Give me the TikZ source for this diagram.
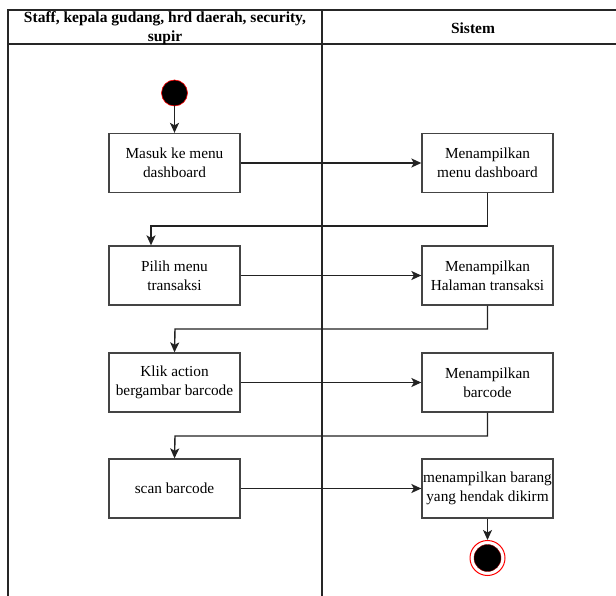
\documentclass[tikz,border=0pt]{standalone}
\usepackage{fontspec}
\setmainfont{Liberation Serif}
\usetikzlibrary{arrows.meta}
\definecolor{garis}{HTML}{222222}
\definecolor{kotak}{HTML}{444444}
\tikzset{
  aktivitas/.style={draw=kotak, line width=1.3pt, fill=white, minimum width=131pt,
    minimum height=59pt, align=center, font=\fontsize{15.3}{19}\selectfont, inner sep=1pt},
  alur/.style={draw=garis, line width=1.4pt, -{Stealth[length=10pt,width=9pt,inset=2.5pt]}},
  jalur/.style={draw=black!85, line width=1.7pt}
}
\begin{document}
\begin{tikzpicture}[x=1pt, y=-1pt]
    \useasboundingbox (0,0) rectangle (616,596);

    % Swimlane
    \draw[jalur] (616,10) -- (8,10) -- (8,596);
    \draw[jalur] (8,44) -- (616,44);
    \draw[jalur] (322,10) -- (322,596);
    \node[align=center, font=\bfseries\fontsize{15.5}{19}\selectfont] (lajur1) at (165,28.5)
        {Staff, kepala gudang, hrd daerah, security,\\supir};
    \node[font=\bfseries\fontsize{15.5}{19}\selectfont] (lajur2) at (473,28) {Sistem};

    % Awal
    \node[circle, fill=black, draw=red, line width=0.6pt, minimum size=26pt, inner sep=0pt] (awal) at (174.5,93) {};

    % Aktivitas pengguna
    \node[aktivitas] (masuk) at (174.5,163) {Masuk ke menu\\dashboard};
    \node[aktivitas] (pilih) at (174.5,275.5) {Pilih menu\\transaksi};
    \node[aktivitas] (klik) at (174.5,382.5) {Klik action\\bergambar barcode};
    \node[aktivitas] (scan) at (174.5,488.5) {scan barcode};

    % Aktivitas sistem
    \node[aktivitas] (dashboard) at (487.5,163) {Menampilkan\\menu dashboard};
    \node[aktivitas] (transaksi) at (487.5,275.5) {Menampilkan\\Halaman transaksi};
    \node[aktivitas] (barcode) at (487.5,382.5) {Menampilkan\\barcode};
    \node[aktivitas] (barang) at (487.5,488.5) {menampilkan barang\\yang hendak dikirm};

    % Akhir
    \node[circle, draw=red, line width=1pt, minimum size=35pt, inner sep=0pt] (akhir) at (487.5,558) {};
    \fill[black, draw=red!60!black, line width=0.4pt] (akhir.center) circle (13.5);

    % Titik belok
    \coordinate (belok1) at (151,226);
    \coordinate (belok2) at (175,329);
    \coordinate (belok3) at (175,436);

    % Alur
    \draw[alur] (awal) -- (masuk);
    \draw[alur] (masuk) -- (dashboard);
    \draw[alur] (dashboard.south) |- (belok1) -- (pilih.north -| belok1);
    \draw[alur] (pilih) -- (transaksi);
    \draw[alur] (transaksi.south) |- (belok2) -- (klik.north);
    \draw[alur] (klik) -- (barcode);
    \draw[alur] (barcode.south) |- (belok3) -- (scan.north);
    \draw[alur] (scan) -- (barang);
    \draw[alur] (barang) -- (akhir);
\end{tikzpicture}
\end{document}
